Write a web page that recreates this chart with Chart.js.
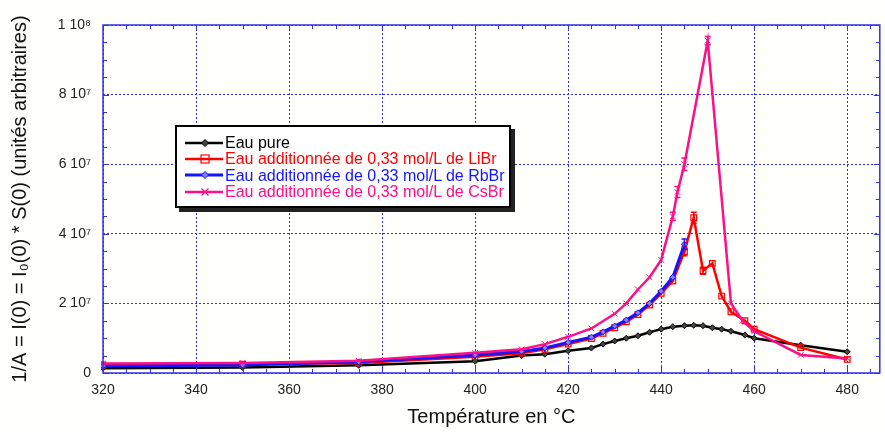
<!DOCTYPE html>
<html>
<head>
<meta charset="utf-8">
<script src="https://cdn.jsdelivr.net/npm/chart.js@4.4.1/dist/chart.umd.min.js"></script>
<style>
  body { margin: 0; background: #fff; }
  #wrap { position: relative; width: 885px; height: 432px; background: #fffffb; }
  #legend {
    position: absolute; left: 175px; top: 125px; width: 332px; height: 71px;
    border: 2px solid #000; background: #fff; box-shadow: 4px 4px 0 #222;
    font-family: Arial, "Liberation Sans", sans-serif; font-size: 16px;
    padding-top: 8px; box-sizing: content-box;
  }
  #legend div { height: 16.3px; line-height: 16px; white-space: nowrap; }
  #legend svg { vertical-align: middle; margin: 0 2px 0 8px; position: relative; top: -1px; }
</style>
</head>
<body>
<div id="wrap">
  <canvas id="c" width="885" height="432"></canvas>
  <div id="legend"></div>
</div>
<script>
// temperatures (°C) and 1/A values
let tempPure = [300, 320, 350, 375, 400, 410, 415, 420, 425, 427.5, 430, 432.5, 435, 437.5, 440, 442.5, 445, 447, 449, 451, 453, 455, 458, 460, 470, 480];
let valPure = [1.3e6, 1.4e6, 1.6e6, 2.2e6, 3.4e6, 5.0e6, 5.4e6, 6.4e6, 7.2e6, 8.3e6, 9.2e6, 1.0e7, 1.07e7, 1.17e7, 1.26e7, 1.33e7, 1.36e7, 1.37e7, 1.36e7, 1.3e7, 1.26e7, 1.2e7, 1.09e7, 1.0e7, 8.0e6, 6.1e6];

let tempLiBr = [300, 320, 350, 375, 400, 410, 415, 420, 425, 427.5, 430, 432.5, 435, 437.5, 440, 442.5, 445, 447, 449, 451, 453, 455, 458, 460, 470, 480];
let valLiBr = [2.2e6, 2.3e6, 2.5e6, 2.9e6, 4.7e6, 5.7e6, 6.8e6, 8.3e6, 9.9e6, 1.14e7, 1.3e7, 1.47e7, 1.68e7, 1.95e7, 2.29e7, 2.64e7, 3.49e7, 4.46e7, 2.94e7, 3.15e7, 2.21e7, 1.76e7, 1.5e7, 1.26e7, 7.3e6, 3.9e6];
let errLiBr = [0, 0, 0, 0, 0, 0, 0, 0, 0, 0, 0, 0, 0, 0, 0, 0, 1.2e6, 1.6e6, 1.0e6, 0, 0, 0, 0, 0, 0, 0];

let tempRbBr = [300, 320, 350, 375, 400, 410, 415, 420, 425, 427.5, 430, 432.5, 435, 437.5, 440, 442.5, 445];
let valRbBr = [1.9e6, 2.0e6, 2.3e6, 3.2e6, 5.2e6, 6.2e6, 7.2e6, 8.8e6, 1.03e7, 1.18e7, 1.35e7, 1.52e7, 1.73e7, 2.0e7, 2.35e7, 2.75e7, 3.7e7];
let errRbBr = [0, 0, 0, 0, 0, 0, 0, 0, 0, 0, 0, 0, 0, 0, 0, 0, 1.5e6];

let tempCsBr = [300, 320, 350, 375, 400, 410, 415, 420, 425, 430, 432.5, 435, 437.5, 440, 442.5, 443.5, 445, 450, 455, 457.5, 460, 470, 480];
let valCsBr = [2.6e6, 2.7e6, 2.9e6, 3.5e6, 5.8e6, 6.8e6, 8.3e6, 1.04e7, 1.28e7, 1.7e7, 2.0e7, 2.4e7, 2.75e7, 3.25e7, 4.5e7, 5.2e7, 6.0e7, 9.55e7, 2.0e7, 1.5e7, 1.2e7, 5.2e6, 4.2e6];
let errCsBr = [0, 0, 0, 0, 0, 0, 0, 0, 0, 0, 0, 0, 0, 0, 1.2e6, 1.6e6, 1.8e6, 1.2e6, 0, 0, 0, 0, 0];

let labels = [
  'Eau pure',
  'Eau additionnée de 0,33 mol/L de LiBr',
  'Eau additionnée de 0,33 mol/L de RbBr',
  'Eau additionnée de 0,33 mol/L de CsBr',
];
let xTicks = [320, 340, 360, 380, 400, 420, 440, 460, 480];
let yTicks = [0, 2e7, 4e7, 6e7, 8e7, 1e8];

const FONT = 'Arial, "Liberation Sans", sans-serif';
const AXIS = '#3232e6';
const GRID = '#2a2aff';
const SUP = { 7: '\u2077', 8: '\u2078' };

function pts(xs, ys) {
  return xs.map((x, i) => ({ x: x, y: ys[i] }));
}

function yLabel(v) {
  if (v === 0) return '0';
  let exp = Math.floor(Math.log10(v) + 1e-9);
  let m = Math.round(v / Math.pow(10, exp));
  return m + ' 10' + SUP[exp];
}

// vertical error bars, using the chart scales
const errorBars = {
  id: 'errorBars',
  afterDatasetsDraw(chart) {
    let { ctx, scales } = chart;
    ctx.save();
    chart.data.datasets.forEach((ds) => {
      if (!ds.errors) return;
      ctx.strokeStyle = ds.borderColor;
      ctx.lineWidth = 1.5;
      ds.data.forEach((p, i) => {
        let e = ds.errors[i];
        if (!e) return;
        let px = scales.x.getPixelForValue(p.x);
        let y1 = scales.y.getPixelForValue(p.y - e);
        let y2 = scales.y.getPixelForValue(p.y + e);
        ctx.beginPath();
        ctx.moveTo(px, y1); ctx.lineTo(px, y2);
        ctx.moveTo(px - 3, y1); ctx.lineTo(px + 3, y1);
        ctx.moveTo(px - 3, y2); ctx.lineTo(px + 3, y2);
        ctx.stroke();
      });
    });
    ctx.restore();
  },
};

// box frame + inward minor ticks on all sides
const frame = {
  id: 'frame',
  afterDraw(chart) {
    let { ctx, chartArea, scales } = chart;
    let { left, right, top, bottom } = chartArea;
    ctx.save();
    ctx.strokeStyle = AXIS;
    ctx.lineWidth = 1.5;
    ctx.strokeRect(left, top, right - left, bottom - top);
    ctx.lineWidth = 1;
    ctx.beginPath();
    for (let t = 320; t <= 485; t += 5) {
      let px = Math.round(scales.x.getPixelForValue(t)) + 0.5;
      let len = t % 20 === 0 ? 6 : 4;
      ctx.moveTo(px, bottom); ctx.lineTo(px, bottom - len);
      ctx.moveTo(px, top); ctx.lineTo(px, top + len);
    }
    for (let v = 0; v <= 1e8; v += 5e6) {
      let py = Math.round(scales.y.getPixelForValue(v)) + 0.5;
      let len = v % 2e7 === 0 ? 6 : 4;
      ctx.moveTo(left, py); ctx.lineTo(left + len, py);
      ctx.moveTo(right, py); ctx.lineTo(right - len, py);
    }
    ctx.stroke();
    ctx.restore();
  },
};

const ctx = document.getElementById('c');
const chart = new Chart(ctx, {
  type: 'line',
  data: {
    datasets: [
      {
        label: labels[0],
        data: pts(tempPure, valPure),
        borderColor: '#000000',
        backgroundColor: '#444444',
        borderWidth: 2.5,
        pointStyle: 'rectRot',
        pointRadius: 3,
        pointBorderWidth: 1,
        order: 4,
      },
      {
        label: labels[1],
        data: pts(tempLiBr, valLiBr),
        errors: errLiBr,
        borderColor: '#ff0000',
        backgroundColor: 'rgba(255,255,255,0)',
        borderWidth: 2.5,
        pointStyle: 'rect',
        pointRadius: 4,
        pointBorderWidth: 1.2,
        order: 3,
      },
      {
        label: labels[2],
        data: pts(tempRbBr, valRbBr),
        errors: errRbBr,
        borderColor: '#1414ff',
        backgroundColor: '#8080ff',
        borderWidth: 3,
        pointStyle: 'rectRot',
        pointRadius: 3,
        pointBorderWidth: 1,
        order: 2,
      },
      {
        label: labels[3],
        data: pts(tempCsBr, valCsBr),
        errors: errCsBr,
        borderColor: '#ff0f87',
        backgroundColor: '#ff0f87',
        borderWidth: 2.5,
        pointStyle: 'crossRot',
        pointRadius: 4,
        pointBorderWidth: 1,
        order: 1,
      },
    ],
  },
  options: {
    responsive: false,
    animation: false,
    clip: 2,
    layout: { padding: { left: 0, right: 5, top: 25, bottom: 0 } },
    plugins: { legend: { display: false }, tooltip: { enabled: false } },
    elements: { line: { tension: 0 } },
    scales: {
      x: {
        type: 'linear',
        min: 320,
        max: 487,
        afterBuildTicks: (s) => { s.ticks = xTicks.map((v) => ({ value: v })); },
        afterFit: (s) => { s.height = 59; },
        grid: { color: GRID, lineWidth: 1, drawTicks: false },
        border: { display: false, dash: [2, 2] },
        ticks: { color: '#222', padding: 9, font: { family: FONT, size: 14 }, maxRotation: 0 },
        title: {
          display: true,
          text: 'Température en °C',
          color: '#111',
          font: { family: FONT, size: 20 },
          padding: { top: 0, bottom: 3 },
        },
      },
      y: {
        min: 0,
        max: 1e8,
        afterBuildTicks: (s) => { s.ticks = yTicks.map((v) => ({ value: v })); },
        afterFit: (s) => { s.width = 103; },
        grid: { color: GRID, lineWidth: 1, drawTicks: false },
        border: { display: false, dash: [2, 2] },
        ticks: { color: '#222', padding: 12, font: { family: FONT, size: 14 }, callback: yLabel },
        title: {
          display: true,
          text: '1/A = I(0) = I\u2080(0) * S(0) (unités arbitraires)',
          color: '#111',
          font: { family: FONT, size: 20 },
          padding: { top: 8, bottom: 0 },
        },
      },
    },
  },
  plugins: [errorBars, frame],
});

// html legend built from the datasets
function sample(ds) {
  let c = ds.borderColor;
  let m = '';
  if (ds.pointStyle === 'rect') {
    m = `<rect x="16" y="4" width="8" height="8" fill="none" stroke="${c}" stroke-width="1.2"/>`;
  } else if (ds.pointStyle === 'rectRot') {
    m = `<polygon points="20,4.5 23.5,8 20,11.5 16.5,8" fill="${ds.backgroundColor}" stroke="${c}"/>`;
  } else {
    m = `<path d="M16.5 4.5 L23.5 11.5 M23.5 4.5 L16.5 11.5" stroke="${c}" stroke-width="1.2"/>`;
  }
  return `<svg width="38" height="16"><line x1="0" y1="8" x2="38" y2="8" stroke="${c}" stroke-width="${ds.borderWidth}"/>${m}</svg>`;
}
document.getElementById('legend').innerHTML = chart.data.datasets
  .map((ds) => `<div style="color:${ds.borderColor}">${sample(ds)}${ds.label}</div>`)
  .join('');
</script>
</body>
</html>
